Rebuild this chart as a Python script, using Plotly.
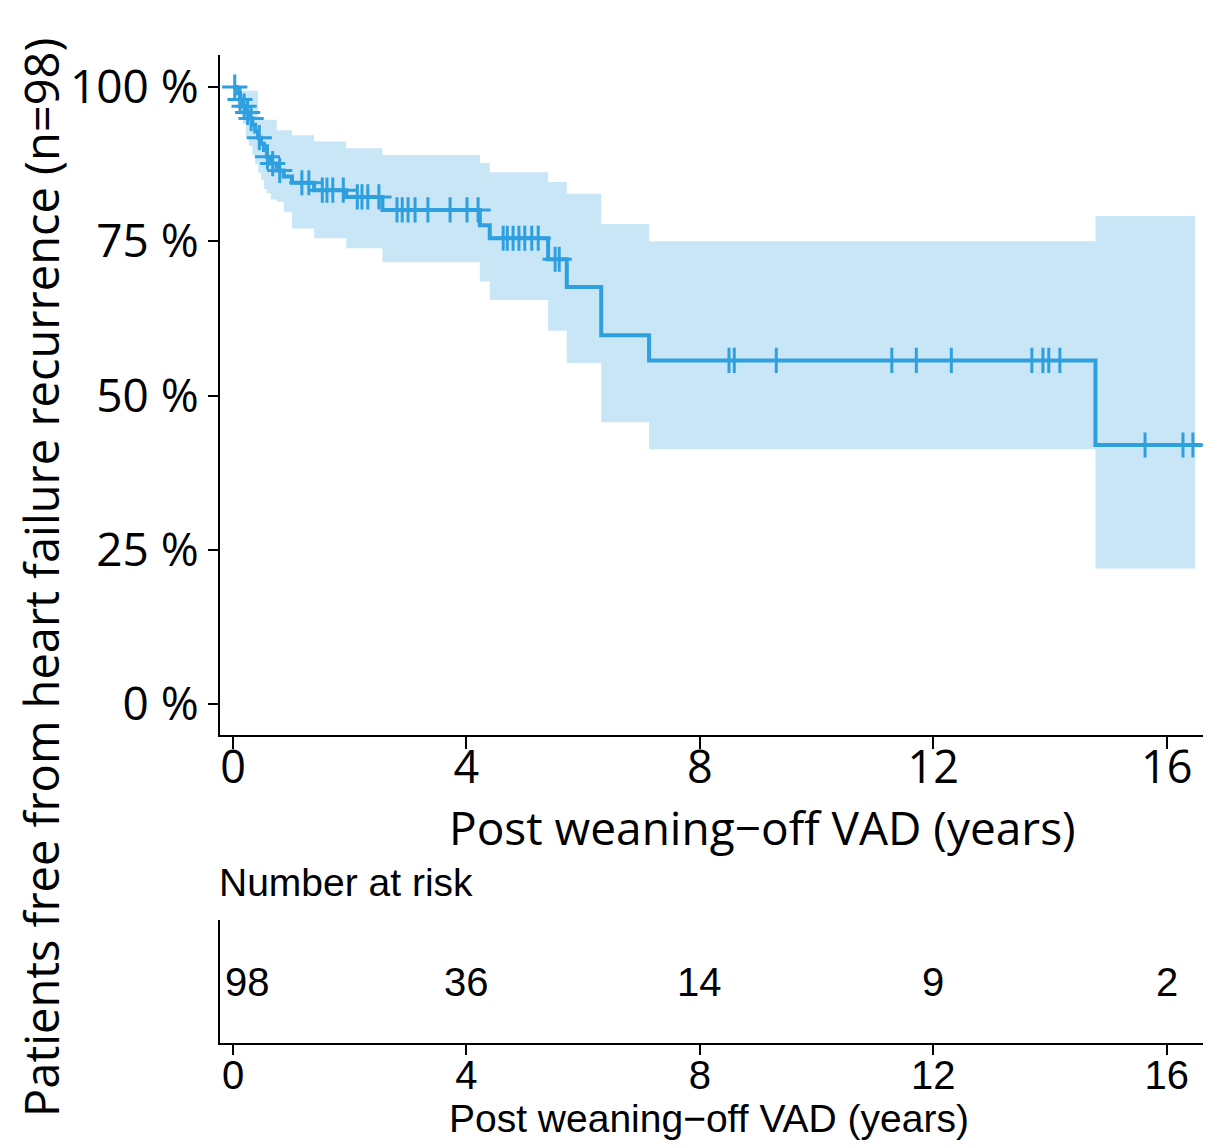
import numpy as np
import plotly.graph_objects as go

# ---- Kaplan-Meier step data (years, % free from HF recurrence) ----
event_times = [0.00, 0.07, 0.12, 0.17, 0.22, 0.27, 0.33, 0.38, 0.43, 0.48, 0.53,
               0.58, 0.65, 0.75, 0.87, 1.01, 1.39, 1.94, 2.56, 4.23, 4.40,
               5.40, 5.72, 6.31, 7.13, 14.78]
surv = [100.0, 99.0, 98.0, 96.9, 95.9, 94.9, 93.9, 92.8, 91.8, 90.8, 89.8,
        88.7, 87.6, 86.5, 85.5, 84.5, 83.3, 82.2, 80.1, 77.6, 75.5,
        72.1, 67.6, 59.8, 55.7, 42.0]
upper = [100.0, 100.0, 99.4, 99.4, 99.4, 99.4, 99.4, 99.4, 94.7, 94.7, 94.7,
         94.7, 94.7, 93.0, 93.0, 92.2, 91.2, 90.1, 89.0, 87.7, 86.2,
         84.6, 82.7, 77.8, 75.0, 79.1]
lower = [100.0, 97.0, 95.5, 94.0, 92.0, 90.5, 89.0, 87.5, 86.1, 85.0, 83.5,
         82.8, 81.8, 81.4, 79.7, 77.1, 75.5, 73.9, 71.6, 68.5, 65.5,
         60.5, 55.3, 45.7, 41.3, 22.0]
band_end = 16.49
curve_end = 16.60

censor_times = [0.03, 0.12, 0.19, 0.25, 0.31, 0.45, 0.59, 0.68, 0.80, 1.18, 1.30,
                1.53, 1.61, 1.71, 1.89, 2.13, 2.21, 2.31, 2.50, 2.81, 2.90,
                3.00, 3.12, 3.34, 3.72, 4.01, 4.20, 4.63, 4.70, 4.80, 4.90,
                5.00, 5.12, 5.23, 5.52, 5.59, 8.50, 8.59, 9.31, 11.29, 11.71,
                12.31, 13.69, 13.88, 13.98, 14.17, 15.63, 16.28, 16.45]

# ---- risk table ----
risk_times = [0, 4, 8, 12, 16]
risk_counts = [98, 36, 14, 9, 2]

x_ticks = [0, 4, 8, 12, 16]
y_ticks = [0, 25, 50, 75, 100]
y_ticktext = ["0 %", "25 %", "50 %", "75 %", "100 %"]

BLUE = "#2E9FDF"
BAND = "rgba(46,159,223,0.26)"
MAIN_FONT = "Open Sans"
TABLE_FONT = "Liberation Sans, Arial"

# censor mark heights from the step function
idx = np.searchsorted(np.array(event_times), np.array(censor_times), side="right") - 1
censor_surv = [surv[i] for i in idx]

fig = go.Figure()
fig.add_trace(go.Scatter(x=event_times + [band_end], y=upper + [upper[-1]],
                         mode="lines", line=dict(width=0, shape="hv"),
                         hoverinfo="skip", showlegend=False))
fig.add_trace(go.Scatter(x=event_times + [band_end], y=lower + [lower[-1]],
                         mode="lines", line=dict(width=0, shape="hv"),
                         fill="tonexty", fillcolor=BAND,
                         hoverinfo="skip", showlegend=False))
fig.add_trace(go.Scatter(x=event_times + [curve_end], y=surv + [surv[-1]],
                         mode="lines", line=dict(color=BLUE, width=4, shape="hv"),
                         showlegend=False))
fig.add_trace(go.Scatter(x=censor_times, y=censor_surv, mode="markers",
                         marker=dict(symbol="cross-thin", size=18,
                                     line=dict(color=BLUE, width=3)),
                         showlegend=False))

# risk table (invisible anchor trace so axes draw)
fig.add_trace(go.Scatter(x=risk_times, y=[0.5] * len(risk_times), mode="markers",
                         marker=dict(opacity=0), xaxis="x2", yaxis="y2",
                         hoverinfo="skip", showlegend=False))

# page has an 8px body margin; positions below are page pixels
OFF = 8
W, H = 1211 - OFF, 1148 - OFF


def fx(px):
    return (px - OFF) / W


def fy(py):
    return 1 - (py - OFF) / H


x_dom = [fx(220), 1.0]
axis_common = dict(showgrid=False, zeroline=False, showline=True,
                   linecolor="black", linewidth=2, mirror=False)

fig.update_layout(
    width=W, height=H, margin=dict(l=0, r=0, t=0, b=0),
    paper_bgcolor="white", plot_bgcolor="white",
    xaxis=dict(domain=x_dom, range=[-0.223, 16.76], anchor="y",
               tickvals=x_ticks, ticks="outside", ticklen=12, tickwidth=2,
               tickcolor="black", ticklabelstandoff=-20,
               tickfont=dict(family=MAIN_FONT, size=45, color="black"),
               **axis_common),
    yaxis=dict(domain=[fy(735), fy(55)], range=[-5.0, 105.2], anchor="x",
               tickvals=y_ticks, ticktext=y_ticktext, ticks="outside",
               ticklen=10, tickwidth=2, tickcolor="black",
               tickfont=dict(family=MAIN_FONT, size=46, color="black"),
               **axis_common),
    xaxis2=dict(domain=x_dom, range=[-0.223, 16.76], anchor="y2",
                tickvals=x_ticks, ticks="outside", ticklen=10, tickwidth=2,
                tickcolor="black", ticklabelstandoff=-14,
                tickfont=dict(family=TABLE_FONT, size=40, color="black"),
                **axis_common),
    yaxis2=dict(domain=[fy(1043), fy(920)], range=[0, 1], anchor="x2",
                showticklabels=False, ticks="", **axis_common),
)

annotations = [
    dict(text="Patients free from heart failure recurrence (n=98)",
         x=fx(41), y=fy(578), xref="paper", yref="paper", textangle=-90,
         showarrow=False, xanchor="center", yanchor="middle",
         font=dict(family=MAIN_FONT, size=47, color="black")),
    dict(text="Post weaning\u2212off VAD (years)", x=fx(762), y=fy(827),
         xref="paper", yref="paper", showarrow=False,
         xanchor="center", yanchor="middle",
         font=dict(family=MAIN_FONT, size=46, color="black")),
    dict(text="Number at risk", x=fx(217), y=fy(882), xref="paper", yref="paper",
         showarrow=False, xanchor="left", yanchor="middle",
         font=dict(family=TABLE_FONT, size=39, color="black")),
    dict(text="Post weaning\u2212off VAD (years)", x=fx(709), y=fy(1118),
         xref="paper", yref="paper", showarrow=False,
         xanchor="center", yanchor="middle",
         font=dict(family=TABLE_FONT, size=39, color="black")),
]
for i, (t, n) in enumerate(zip(risk_times, risk_counts)):
    annotations.append(dict(text=str(n), x=t, y=0.5, xref="x2", yref="y2",
                            showarrow=False, xanchor="center", yanchor="middle",
                            xshift=14 if i == 0 else 0,
                            font=dict(family=TABLE_FONT, size=40, color="black")))
fig.update_layout(annotations=annotations)

fig.write_html("out.html")
